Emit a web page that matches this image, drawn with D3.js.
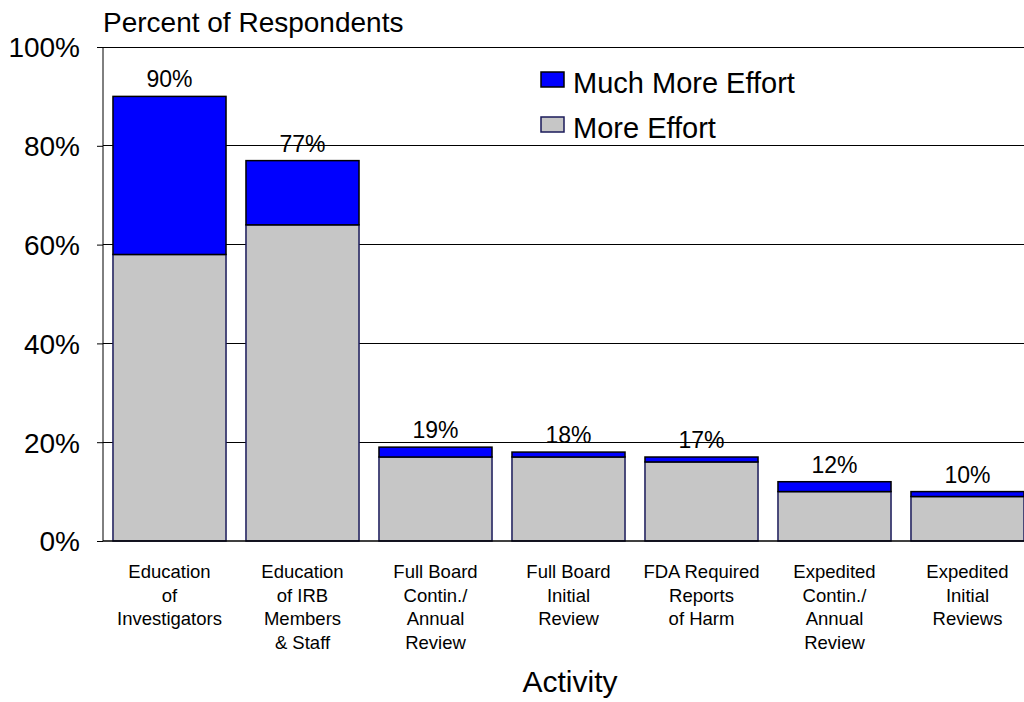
<!DOCTYPE html>
<html>
<head>
<meta charset="utf-8">
<script src="https://cdn.jsdelivr.net/npm/d3@7"></script>
<style>
  body { margin: 0; background: #fff; }
  svg text { font-family: "Liberation Sans", Arial, sans-serif; fill: #000; }
</style>
</head>
<body>
<svg id="chart" width="1024" height="702"></svg>
<script>
// Categories (one line per array entry)
const categories = [
    ['Education', 'of', 'Investigators'],
    ['Education', 'of IRB', 'Members', '& Staff'],
    ['Full Board', 'Contin./', 'Annual', 'Review'],
    ['Full Board', 'Initial', 'Review'],
    ['FDA Required', 'Reports', 'of Harm'],
    ['Expedited', 'Contin./', 'Annual', 'Review'],
    ['Expedited', 'Initial', 'Reviews']
];
const moreEffort     = [58, 64, 17, 17, 16, 10, 9];
const muchMoreEffort = [32, 13, 2, 1, 1, 2, 1];
const totalLabels    = ['90%', '77%', '19%', '18%', '17%', '12%', '10%'];
const yTicks = [0, 20, 40, 60, 80, 100];

const svg = d3.select('#chart');

const margin = { left: 103, top: 47, bottom: 161 };
const plotBottom = 702 - margin.bottom;   // 541

// Bands run past the right edge (the original is cropped there)
const x = d3.scaleBand()
    .domain(d3.range(categories.length))
    .range([margin.left, margin.left + 7 * 133])
    .paddingInner(0.15)
    .paddingOuter(0.075);

const y = d3.scaleLinear().domain([0, 100]).range([plotBottom, margin.top]);

// Gridlines
svg.append('g').selectAll('line')
    .data(yTicks.filter(d => d > 0))
    .join('line')
    .attr('x1', margin.left).attr('x2', 1024)
    .attr('y1', d => y(d)).attr('y2', d => y(d))
    .attr('stroke', '#000').attr('stroke-width', 1)
    .attr('shape-rendering', 'crispEdges');

// Y axis
const yAxis = svg.append('g')
    .attr('transform', `translate(${margin.left},0)`)
    .call(d3.axisLeft(y).tickValues(yTicks).tickSize(6).tickPadding(17).tickFormat(d => d + '%'));
yAxis.select('.domain').attr('stroke', '#000').attr('d', `M0,${plotBottom}V${margin.top}`);
yAxis.selectAll('.tick line').attr('stroke', '#000');
yAxis.selectAll('.tick text')
    .style('font-size', '28px')
    .attr('dy', '0.35em');

// Stacked bars
const rows = categories.map((c, i) => ({ i, more: moreEffort[i], much: muchMoreEffort[i] }));

const bars = svg.append('g');
bars.selectAll('rect.more').data(rows).join('rect')
    .attr('class', 'more')
    .attr('x', d => x(d.i))
    .attr('width', x.bandwidth())
    .attr('y', d => y(d.more))
    .attr('height', d => y(0) - y(d.more))
    .attr('fill', '#c6c6c6')
    .attr('stroke', '#1a1a5a').attr('stroke-width', 1.5);

bars.selectAll('rect.much').data(rows).join('rect')
    .attr('class', 'much')
    .attr('x', d => x(d.i))
    .attr('width', x.bandwidth())
    .attr('y', d => y(d.more + d.much))
    .attr('height', d => y(d.more) - y(d.more + d.much))
    .attr('fill', '#0000ff')
    .attr('stroke', '#000').attr('stroke-width', 1.5);

// X baseline
svg.append('line')
    .attr('x1', margin.left).attr('x2', 1024)
    .attr('y1', plotBottom).attr('y2', plotBottom)
    .attr('stroke', '#000').attr('stroke-width', 1.5);

// Total labels
svg.append('g').selectAll('text').data(rows).join('text')
    .attr('x', d => x(d.i) + x.bandwidth() / 2)
    .attr('y', d => y(d.more + d.much) - 9)
    .attr('text-anchor', 'middle')
    .style('font-size', '23px')
    .text(d => totalLabels[d.i]);

// Category labels
const cat = svg.append('g').selectAll('text').data(rows).join('text')
    .attr('text-anchor', 'middle')
    .style('font-size', '18.5px');
cat.selectAll('tspan').data(d => categories[d.i].map(s => ({ s, cx: x(d.i) + x.bandwidth() / 2 })))
    .join('tspan')
    .attr('x', d => d.cx)
    .attr('y', (d, j) => 578 + j * 23.7)
    .text(d => d.s);

// Axis titles
svg.append('text')
    .attr('x', 103).attr('y', 32)
    .style('font-size', '28px')
    .text('Percent of Respondents');

svg.append('text')
    .attr('x', 570).attr('y', 692)
    .attr('text-anchor', 'middle')
    .style('font-size', '30px')
    .text('Activity');

// Legend
const legend = [
    { label: 'Much More Effort', color: '#0000ff', stroke: '#000' },
    { label: 'More Effort', color: '#c6c6c6', stroke: '#1a1a5a' }
];
const lg = svg.append('g').selectAll('g').data(legend).join('g')
    .attr('transform', (d, i) => `translate(541,${72 + i * 45})`);
lg.append('rect')
    .attr('width', 23).attr('height', 15)
    .attr('fill', d => d.color)
    .attr('stroke', d => d.stroke).attr('stroke-width', 1.5);
lg.append('text')
    .attr('x', 32).attr('y', 21)
    .style('font-size', '29px')
    .text(d => d.label);
</script>
</body>
</html>
